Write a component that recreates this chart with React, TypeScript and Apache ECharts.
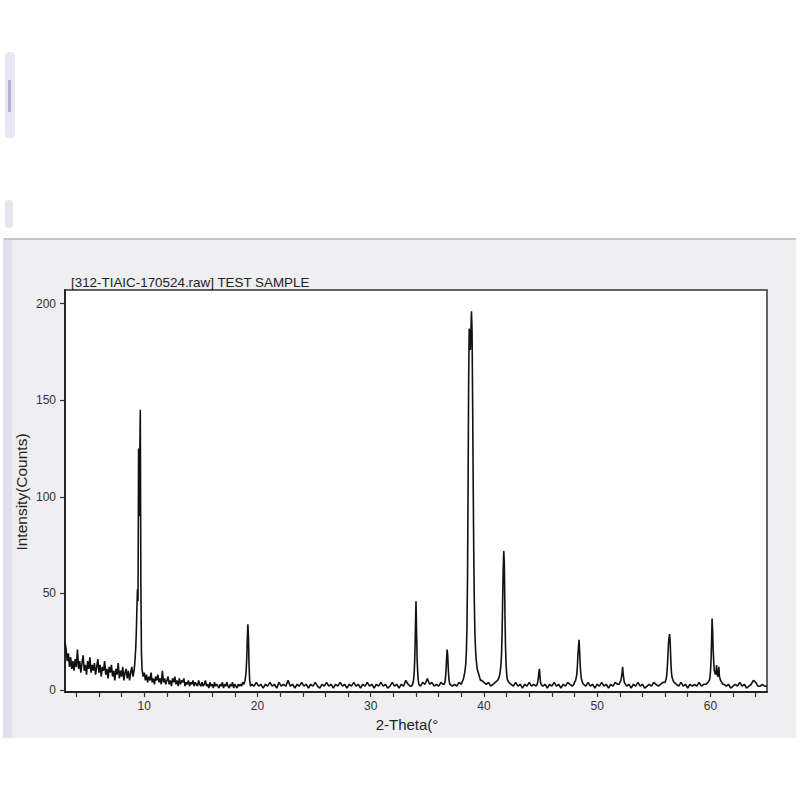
import React, { useEffect, useRef } from "react";
import * as echarts from "echarts";

// ---- texts ----
const titleText = "[312-TIAIC-170524.raw] TEST SAMPLE";
const xAxisTitle = "2-Theta(°";
const yAxisTitle = "Intensity(Counts)";

// ---- axes ----
const xMin = 3;
const xMax = 65;
const yMin = -1;
const yMax = 207;
const xTickValues = [4, 6, 8, 10, 12, 14, 16, 18, 20, 22, 24, 26, 28, 30, 32, 34, 36, 38, 40, 42, 44, 46, 48, 50, 52, 54, 56, 58, 60, 62, 64];
const xLabelValues = [10, 20, 30, 40, 50, 60];
const yTickValues = [0, 50, 100, 150, 200];

// ---- background scan stretches (counts on a regular 2θ grid) ----
const bgLowStart = 3.0, bgLowStep = 0.1;
const bgLow = [25, 21, 15, 19, 12, 17, 11, 15, 10, 16,
  12, 21, 11, 15, 9, 14, 18, 10, 13, 8,
  15, 11, 17, 9, 13, 10, 14, 8, 12, 16,
  9, 13, 7, 12, 10, 15, 8, 11, 6, 12,
  9, 13, 7, 10, 5, 11, 8, 14, 6, 10,
  7, 12, 5, 9, 11, 6, 10, 5, 9, 12,
  7, 10];
const bgMidStart = 9.9, bgMidStep = 0.1;
const bgMid = [7, 9, 5, 8, 4, 7, 5, 9, 4, 6,
  3, 7, 5, 8, 4, 6, 3, 10, 4, 6,
  3, 5, 7, 3, 5, 2, 6, 4, 7, 3,
  5, 2, 6, 3, 5, 4, 6, 2, 4, 3,
  5, 2, 4, 3, 5, 2, 4, 3, 2, 5,
  3, 2, 4, 2, 3, 5, 2, 3, 1, 4,
  2, 3, 1, 4, 2, 3, 2, 1, 3, 2,
  4, 1, 3, 2, 4, 2, 1, 3, 2, 4,
  1, 3, 2, 1, 3, 2, 3, 2, 4, 3];
const bgAStart = 19.5;
const bgA = [3, 2, 4, 2, 3, 1, 3, 2, 4, 2,
  3, 1, 4, 2, 3, 2, 5, 2, 3, 1,
  3, 2, 4, 2, 3, 1, 3, 2, 4, 2,
  1, 3, 2, 4, 2, 3, 1, 3, 2, 4,
  2, 3, 1, 3, 2, 4, 2, 3, 1, 3,
  2, 4, 2, 3, 1, 3, 2, 4, 2, 3,
  1, 2, 4, 2, 3, 1, 3, 2, 5, 3,
  2];
const bgB = [2, 4, 3, 6, 3, 4, 2, 3, 2, 4, 3]; // 34.4 – 36.4
const bgC = [2, 3, 2, 4, 3, 6]; // 37.2 – 38.2
const bgD = [5, 4, 3, 4, 2, 3, 4, 5]; // 39.8 – 41.2
const bgE = [3, 2, 4, 2, 3, 1, 3, 2, 4, 2, 3, 2]; // 42.4 – 44.6
const bgF = [2, 3, 1, 3, 2, 4, 2, 3, 1, 3, 2, 4, 3, 2]; // 45.2 – 47.8
const bgG = [3, 2, 4, 2, 3, 1, 3, 2, 4, 2, 3, 1, 3, 2, 4, 3]; // 48.8 – 51.8
const bgH = [2, 3, 1, 3, 2, 4, 2, 3, 1, 2, 3, 2, 4, 3, 2, 3, 4]; // 52.6 – 55.8
const bgI = [3, 2, 4, 2, 3, 1, 3, 2, 3, 2, 4, 2, 3, 3, 4]; // 57.0 – 59.8
const bgJ = [3, 2, 3, 1, 2, 3, 2, 4, 2, 3, 1, 2, 3, 5, 4, 2, 2, 3, 2, 2]; // 61.2 – 65.0
const coarseStep = 0.2;

// ---- reflections: [2θ, counts] ----
const peak9: [number, number][] = [[9.15, 13], [9.2, 17], [9.25, 22], [9.3, 30], [9.35, 42], [9.4, 52], [9.45, 46], [9.5, 125], [9.55, 90], [9.6, 118], [9.65, 145], [9.7, 55], [9.75, 20], [9.8, 11]];
const peak19: [number, number][] = [[18.85, 3], [18.9, 5], [18.95, 7], [19.0, 10], [19.05, 16], [19.1, 26], [19.15, 34], [19.2, 28], [19.25, 14], [19.3, 6], [19.35, 3], [19.4, 2]];
const peak34: [number, number][] = [[33.6, 2], [33.7, 3], [33.75, 4], [33.8, 6], [33.85, 10], [33.9, 18], [33.95, 32], [34.0, 46], [34.05, 30], [34.1, 16], [34.15, 9], [34.2, 5], [34.25, 3]];
const peak37: [number, number][] = [[36.5, 3], [36.55, 4], [36.6, 6], [36.65, 10], [36.7, 16], [36.75, 21], [36.8, 18], [36.85, 11], [36.9, 6], [36.95, 4], [37.0, 3]];
const peak39: [number, number][] = [[38.3, 9], [38.35, 11], [38.4, 14], [38.45, 20], [38.5, 32], [38.55, 58], [38.6, 105], [38.65, 160], [38.7, 187], [38.75, 180], [38.8, 176], [38.85, 186], [38.9, 196], [38.95, 186], [39.0, 150], [39.05, 108], [39.1, 72], [39.15, 46], [39.2, 30], [39.25, 22], [39.3, 17], [39.35, 14], [39.4, 11], [39.5, 9], [39.6, 7], [39.7, 5]];
const peak42: [number, number][] = [[41.3, 6], [41.35, 7], [41.4, 8], [41.45, 10], [41.5, 13], [41.55, 18], [41.6, 28], [41.65, 45], [41.7, 62], [41.75, 72], [41.8, 66], [41.85, 42], [41.9, 24], [41.95, 14], [42.0, 9], [42.05, 6], [42.1, 5], [42.2, 4]];
const peak45: [number, number][] = [[44.7, 3], [44.75, 4], [44.8, 6], [44.85, 9], [44.9, 11], [44.95, 7], [45.0, 4], [45.05, 3]];
const peak48: [number, number][] = [[47.95, 3], [48.0, 4], [48.1, 5], [48.2, 8], [48.25, 12], [48.3, 18], [48.35, 22], [48.4, 26], [48.45, 20], [48.5, 13], [48.55, 9], [48.6, 6], [48.7, 4]];
const peak52: [number, number][] = [[51.95, 3], [52.0, 4], [52.1, 5], [52.15, 7], [52.2, 9], [52.25, 12], [52.3, 8], [52.35, 6], [52.4, 4], [52.5, 3]];
const peak56: [number, number][] = [[56.0, 4], [56.05, 5], [56.1, 6], [56.15, 8], [56.2, 12], [56.25, 18], [56.3, 24], [56.35, 27], [56.4, 29], [56.45, 25], [56.5, 16], [56.55, 10], [56.6, 7], [56.7, 5], [56.8, 4]];
const peak60: [number, number][] = [[59.9, 5], [59.95, 6], [60.0, 9], [60.05, 14], [60.1, 24], [60.15, 37], [60.2, 30], [60.25, 20], [60.3, 14], [60.35, 10], [60.4, 9], [60.45, 8], [60.5, 9], [60.55, 13], [60.6, 8], [60.65, 7], [60.7, 9], [60.75, 12], [60.8, 7], [60.85, 6], [60.9, 5], [61.0, 4], [61.1, 3]];

function scan(start: number, step: number, counts: number[]): [number, number][] {
  return counts.map((c, i) => [Math.round((start + i * step) * 100) / 100, c]);
}

const pattern: [number, number][] = [
  ...scan(bgLowStart, bgLowStep, bgLow),
  ...peak9,
  ...scan(bgMidStart, bgMidStep, bgMid),
  ...peak19,
  ...scan(bgAStart, coarseStep, bgA),
  ...peak34,
  ...scan(34.4, coarseStep, bgB),
  ...peak37,
  ...scan(37.2, coarseStep, bgC),
  ...peak39,
  ...scan(39.8, coarseStep, bgD),
  ...peak42,
  ...scan(42.4, coarseStep, bgE),
  ...peak45,
  ...scan(45.2, coarseStep, bgF),
  ...peak48,
  ...scan(48.8, coarseStep, bgG),
  ...peak52,
  ...scan(52.6, coarseStep, bgH),
  ...peak56,
  ...scan(57.0, coarseStep, bgI),
  ...peak60,
  ...scan(61.2, coarseStep, bgJ),
];

const FONT = "'Liberation Sans', Arial, sans-serif";

export default function App() {
  const ref = useRef<HTMLDivElement>(null);
  useEffect(() => {
    if (!ref.current) return;
    const chart = echarts.init(ref.current, undefined, { renderer: "svg" });
    chart.setOption({
      animation: false,
      backgroundColor: "#ffffff",
      graphic: [
        // screenshot artefacts on the left
        { type: "rect", z: -10, shape: { x: 5, y: 52, width: 10, height: 86, r: 4 }, style: { fill: "#e8e6f3" }, silent: true },
        { type: "rect", z: -9, shape: { x: 8, y: 80, width: 3, height: 32 }, style: { fill: "#b4b1d3" }, silent: true },
        { type: "rect", z: -10, shape: { x: 5, y: 200, width: 8, height: 28, r: 3 }, style: { fill: "#e6e5ee" }, silent: true },
        // gray window panel
        { type: "rect", z: -10, shape: { x: 4, y: 238, width: 792, height: 500 }, style: { fill: "#efeef1" }, silent: true },
        { type: "rect", z: -9, shape: { x: 3, y: 238, width: 9, height: 500 }, style: { fill: "#e2e0ec" }, silent: true },
        { type: "line", z: -9, shape: { x1: 4, y1: 239, x2: 796, y2: 239 }, style: { stroke: "#c6c6ca", lineWidth: 2 }, silent: true },
        // texts
        { type: "text", x: 71, y: 282, style: { text: titleText, font: `13.4px ${FONT}`, fill: "#222", verticalAlign: "middle", align: "left" } },
        { type: "text", x: 407, y: 724, style: { text: xAxisTitle, font: `15px ${FONT}`, fill: "#222", verticalAlign: "middle", align: "center" } },
        { type: "text", x: 21, y: 492, rotation: Math.PI / 2, style: { text: yAxisTitle, font: `15.5px ${FONT}`, fill: "#222", verticalAlign: "middle", align: "center" } },
      ],
      grid: {
        left: 65,
        right: 33,
        top: 290,
        bottom: 108,
        show: true,
        backgroundColor: "#ffffff",
        borderColor: "#333333",
        borderWidth: 1.5,
      },
      xAxis: {
        type: "value",
        min: xMin,
        max: xMax,
        splitLine: { show: false },
        axisLine: { show: true, onZero: false, lineStyle: { color: "#222", width: 1.8 } },
        axisTick: { show: true, inside: false, length: 5, customValues: xTickValues, lineStyle: { color: "#333", width: 1.2 } },
        axisLabel: { show: true, customValues: xLabelValues, margin: 8, color: "#333", fontSize: 12, fontFamily: FONT },
      },
      yAxis: {
        type: "value",
        min: yMin,
        max: yMax,
        splitLine: { show: false },
        axisLine: { show: true, onZero: false, lineStyle: { color: "#222", width: 1.8 } },
        axisTick: { show: true, inside: false, length: 5, customValues: yTickValues, lineStyle: { color: "#333", width: 1.2 } },
        axisLabel: { show: true, customValues: yTickValues, margin: 9, color: "#333", fontSize: 12, fontFamily: FONT },
      },
      series: [
        {
          type: "line",
          data: pattern,
          showSymbol: false,
          symbol: "none",
          lineStyle: { color: "#111111", width: 1.6 },
          clip: true,
        },
      ],
    });
    return () => chart.dispose();
  }, []);
  return <div ref={ref} style={{ position: "fixed", left: 0, top: 0, width: 800, height: 800 }} />;
}
